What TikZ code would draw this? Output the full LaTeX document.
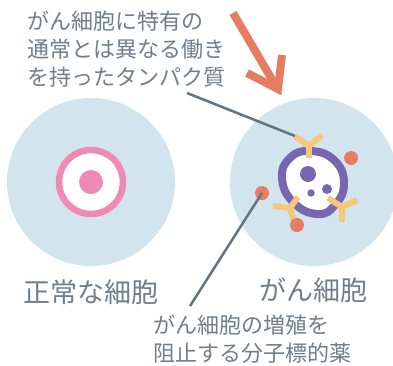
\documentclass[tikz,border=0pt]{standalone}
\usepackage{fontspec}
\setmainfont{Noto Sans CJK JP}

\definecolor{cellblue}{RGB}{210,228,238}
\definecolor{ringpink}{RGB}{240,138,180}
\definecolor{cellpurple}{RGB}{120,102,176}
\definecolor{protyellow}{RGB}{244,200,120}
\definecolor{drugred}{RGB}{229,125,98}
\definecolor{leadgray}{RGB}{100,115,128}
\definecolor{textgray}{RGB}{112,126,138}

\begin{document}
\begin{tikzpicture}[x=1pt,y=-1pt,
  cell/.style={circle,fill=cellblue,minimum size=168pt,inner sep=0pt},
  drug/.style={circle,fill=drugred,minimum size=14pt,inner sep=0pt},
  receptor/.style={draw=protyellow,line width=6pt,line join=round},
  leader/.style={draw=leadgray,line width=2.5pt},
  caption/.style={text=textgray,font=\fontsize{22}{28}\selectfont,align=left,inner sep=0pt},
  celllabel/.style={text=textgray,font=\fontsize{27}{30}\selectfont,inner sep=0pt}]
  \useasboundingbox (0,0) rectangle (393,365);

  \node[cell] (normal) at (91,182) {};
  \node[cell] (cancer) at (314,182) {};

  % normal cell
  \draw[draw=ringpink,line width=6.5pt,fill=white] (normal.center) circle (32);
  \fill[ringpink] (normal.center) circle (12);

  % cancer cell
  \draw[draw=cellpurple,line width=8pt,fill=white] plot[smooth cycle,tension=0.8] coordinates
    {(310,151) (334,160) (344,183) (335,205) (317,214) (293,202) (282,178) (290,158)};
  \fill[cellpurple] (308,174) circle (8);
  \fill[cellpurple] (311,193) circle (3.7);
  \fill[cellpurple] (327,189) circle (5);

  % proteins on the membrane
  \coordinate (ytop) at (295,136);
  \draw[receptor] (ytop) -- (309,146) -- (322,135);
  \draw[receptor] (309,146) -- (309,158);
  \draw[receptor] (273,206) -- (290,208) -- (298,197);
  \draw[receptor] (290,208) -- (294,221);
  \draw[receptor] (328,198) -- (342,207) -- (357,200);
  \draw[receptor] (342,207) -- (342,222);

  \node[drug] (drugA) at (262,193) {};
  \node[drug] (drugB) at (297,225) {};
  \node[drug] (drugC) at (351,158) {};

  \node[celllabel] (normallabel) at (91,292) {正常な細胞};
  \node[celllabel] (cancerlabel) at (313,290) {がん細胞};

  \node[caption,anchor=west] (protein) at (27,49)
    {がん細胞に特有の\\通常とは異なる働き\\を持ったタンパク質};
  \node[caption,anchor=west] (medicine) at (153,339)
    {がん細胞の増殖を\\阻止する分子標的薬};

  \coordinate (proteinfoot) at (187,93);
  \coordinate (medicinehead) at (190,306);
  \draw[leader] (proteinfoot) -- (ytop);
  \draw[leader] (medicinehead) -- (drugA.center);

  % arrow pointing at the cancer cell
  \draw[draw=drugred,line width=8pt] (233,13) -- (277,88);
  \draw[draw=drugred,line width=8pt,miter limit=4] (247,73) -- (278,89) -- (282,55);
\end{tikzpicture}
\end{document}
